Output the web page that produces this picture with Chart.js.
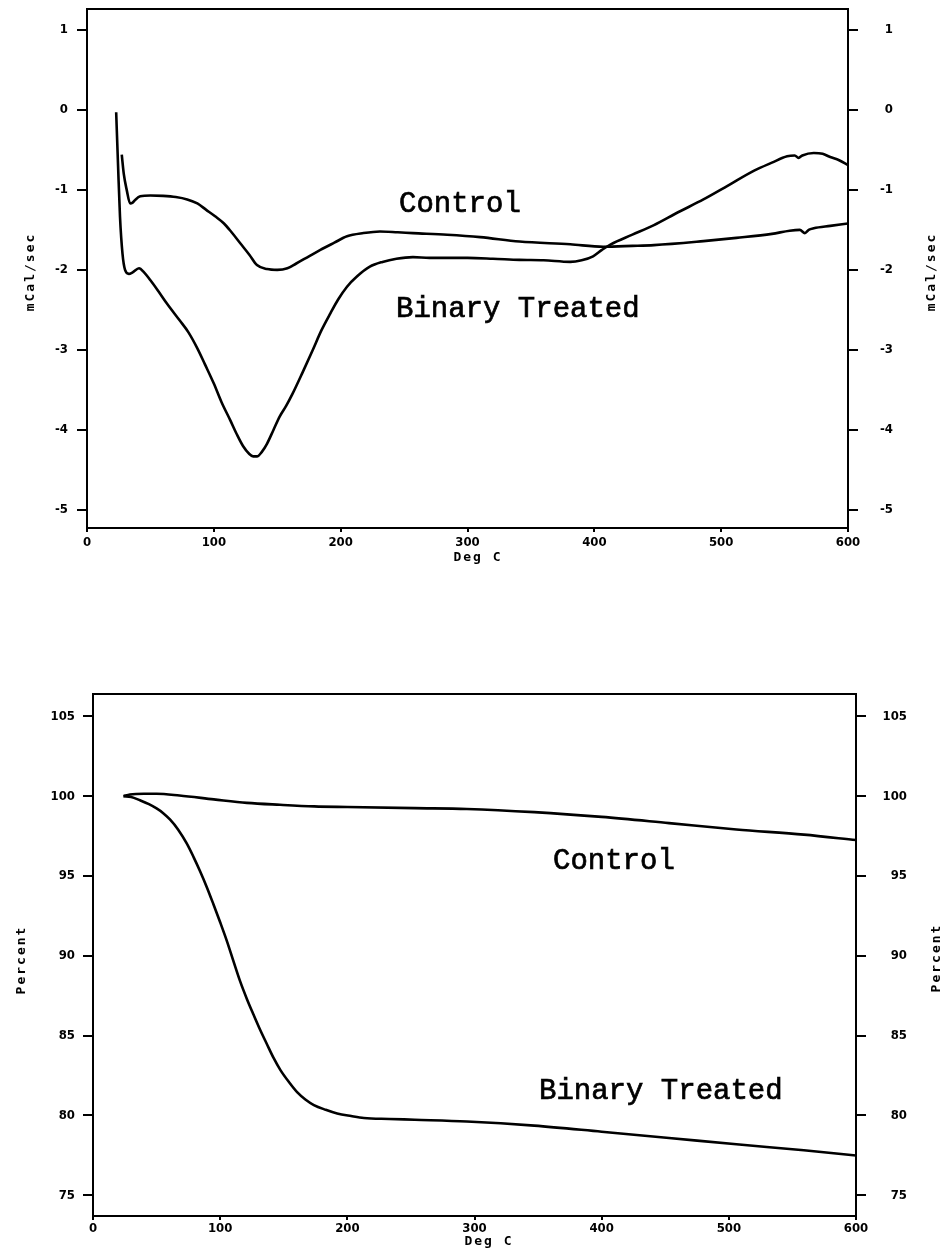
<!DOCTYPE html>
<html>
<head>
<meta charset="utf-8">
<script src="https://cdn.jsdelivr.net/npm/chart.js@4.4.0/dist/chart.umd.min.js"></script>
<style>
  html, body { margin: 0; padding: 0; background: #fff; }
  body { width: 946px; height: 1255px; position: relative; overflow: hidden; }
  canvas { position: absolute; left: 0; }
  #dscChart { top: 0; }
  #tgaChart { top: 600px; }
</style>
</head>
<body>
<canvas id="dscChart" width="946" height="600"></canvas>
<canvas id="tgaChart" width="946" height="655"></canvas>
<script>
// temperature axis (Deg C), shared by both panels
const tempTicks = [0, 100, 200, 300, 400, 500, 600];

// top panel: heat flow, mCal/sec
const dscYTicks = [1, 0, -1, -2, -3, -4, -5];
const dscControlTemps = [27.4, 29, 31.3, 34, 36, 38, 42, 50, 60, 70, 79, 87, 94, 101, 108, 114, 121, 128, 134, 142, 150, 158, 165, 175, 184, 195, 205, 218, 231, 245, 257, 284, 310, 341, 381, 407, 430, 447, 486, 512, 540, 554, 562, 566, 569, 573, 586, 600];
const dscControlFlow = [-0.56, -0.8, -1.0, -1.17, -1.16, -1.125, -1.08, -1.07, -1.075, -1.09, -1.12, -1.17, -1.25, -1.33, -1.42, -1.53, -1.67, -1.81, -1.94, -1.99, -2.0, -1.98, -1.92, -1.83, -1.75, -1.66, -1.58, -1.54, -1.52, -1.53, -1.54, -1.56, -1.59, -1.645, -1.68, -1.71, -1.70, -1.69, -1.64, -1.60, -1.55, -1.51, -1.50, -1.54, -1.50, -1.48, -1.45, -1.42];
const dscBinaryTemps = [23, 24.5, 26, 28, 30, 33, 36, 41, 45, 50, 56, 63, 73, 80, 87, 93, 100, 106, 113, 118, 123, 128, 131, 134, 138, 142, 147, 152, 157, 162, 170, 178, 185, 192, 198, 205, 213, 223, 233, 244, 257, 270, 284, 300, 320, 341, 360, 381, 390, 399, 406, 413, 430, 447, 466, 486, 505, 526, 540, 552, 558, 561, 564, 573, 580, 586, 593, 600];
const dscBinaryFlow = [-0.03, -0.7, -1.33, -1.8, -2.0, -2.05, -2.03, -1.98, -2.03, -2.13, -2.26, -2.42, -2.63, -2.78, -2.98, -3.18, -3.42, -3.65, -3.88, -4.05, -4.2, -4.3, -4.33, -4.33, -4.27, -4.17, -4.0, -3.83, -3.7, -3.55, -3.28, -3.0, -2.75, -2.54, -2.37, -2.21, -2.08, -1.96, -1.9, -1.86, -1.84, -1.85, -1.85, -1.85, -1.86, -1.875, -1.88, -1.9, -1.88, -1.83, -1.75, -1.68, -1.56, -1.44, -1.28, -1.12, -0.95, -0.76, -0.66, -0.58, -0.57, -0.6, -0.57, -0.54, -0.55, -0.59, -0.63, -0.69];

// bottom panel: weight, Percent
const tgaYTicks = [105, 100, 95, 90, 85, 80, 75];
const tgaControlTemps = [24, 29, 40, 50, 68, 95, 121, 147, 174, 200, 253, 294, 347, 400, 453, 506, 559, 600];
const tgaControlPct = [100.0, 100.1, 100.15, 100.15, 100.04, 99.8, 99.58, 99.46, 99.36, 99.32, 99.25, 99.2, 99.0, 98.7, 98.31, 97.91, 97.59, 97.25];
const tgaBinaryTemps = [24, 30, 37, 44, 50, 55, 60.5, 67, 73.7, 79, 84.2, 89.5, 94.7, 100, 105.3, 110.5, 115.8, 121, 126.3, 131.5, 136.8, 142, 147.4, 154, 160.5, 167, 173.7, 183, 192, 203, 213, 233, 253, 294, 347, 400, 453, 506, 559, 600];
const tgaBinaryPct = [100.0, 99.95, 99.74, 99.5, 99.23, 98.95, 98.54, 97.9, 97.04, 96.2, 95.3, 94.3, 93.23, 92.1, 90.92, 89.65, 88.38, 87.3, 86.3, 85.35, 84.46, 83.6, 82.84, 82.1, 81.46, 81.0, 80.65, 80.35, 80.12, 79.96, 79.84, 79.78, 79.73, 79.62, 79.36, 78.98, 78.59, 78.19, 77.82, 77.49];

const tickFont = { family: '"DejaVu Sans Condensed", "DejaVu Sans", sans-serif', size: 13, weight: 'bold' };

function toPoints(xs, ys) {
    return xs.map((x, i) => ({ x: x, y: ys[i] }));
}

function fixedTicks(values) {
    return function(scale) {
        scale.ticks = values.map(v => ({ value: v }));
    };
}

// draws the box round the plot, the curve labels and the axis titles
const framePlugin = {
    id: 'frame',
    afterDraw(chart, args, opts) {
        const { ctx, chartArea: a } = chart;
        ctx.save();
        ctx.strokeStyle = '#000';
        ctx.lineWidth = 2;
        ctx.strokeRect(a.left, a.top, a.right - a.left, a.bottom - a.top);

        // typewriter labels, a bit heavier like the scanned original
        ctx.fillStyle = '#000';
        ctx.font = '29px "Liberation Mono", "Courier New", monospace';
        ctx.textAlign = 'left';
        ctx.textBaseline = 'alphabetic';
        ctx.lineWidth = 0.7;
        opts.notes.forEach(n => {
            ctx.fillText(n.text, n.x, n.y);
            ctx.strokeText(n.text, n.x, n.y);
        });

        ctx.font = 'bold 13px "DejaVu Sans Mono", monospace';
        ctx.textAlign = 'center';
        ctx.textBaseline = 'middle';
        ctx.letterSpacing = '2px';
        ctx.fillText(opts.xTitle.text, opts.xTitle.x, opts.xTitle.y);
        opts.yTitles.forEach(t => {
            ctx.save();
            ctx.translate(t.x, t.y);
            ctx.rotate(-Math.PI / 2);
            ctx.fillText(t.text, 0, 0);
            ctx.restore();
        });
        ctx.restore();
    }
};

function createPanel(canvasId, cfg) {
    const ctx = document.getElementById(canvasId).getContext('2d');
    const tickGrid = { display: true, drawOnChartArea: false, drawTicks: true, tickLength: 10, color: '#000', lineWidth: 2 };
    return new Chart(ctx, {
        type: 'line',
        data: {
            datasets: cfg.series.map(s => ({
                label: s.label,
                data: s.data,
                borderColor: '#000',
                borderWidth: 2.6,
                pointRadius: 0,
                fill: false,
                cubicInterpolationMode: 'monotone'
            }))
        },
        options: {
            responsive: false,
            animation: false,
            layout: { padding: { top: cfg.top, right: cfg.rightPad, left: 0, bottom: 0 } },
            plugins: {
                legend: { display: false },
                tooltip: { enabled: false },
                frame: { notes: cfg.notes, xTitle: cfg.xTitle, yTitles: cfg.yTitles }
            },
            scales: {
                x: {
                    type: 'linear',
                    min: 0,
                    max: 600,
                    afterBuildTicks: fixedTicks(tempTicks),
                    afterFit: s => { s.height = cfg.xHeight; s.paddingLeft = 0; s.paddingRight = 0; },
                    grid: { display: true, drawOnChartArea: false, drawTicks: true, tickLength: 4, color: '#000', lineWidth: 2 },
                    border: { display: false },
                    ticks: { color: '#000', font: tickFont, padding: cfg.xPad, maxRotation: 0 }
                },
                y: {
                    position: 'left',
                    min: cfg.yMin,
                    max: cfg.yMax,
                    afterBuildTicks: fixedTicks(cfg.yTicks),
                    afterFit: s => { s.width = cfg.leftWidth; s.paddingTop = 0; s.paddingBottom = 0; },
                    grid: tickGrid,
                    border: { display: false },
                    ticks: { color: '#000', font: tickFont, padding: cfg.leftPad }
                },
                y2: {
                    position: 'right',
                    min: cfg.yMin,
                    max: cfg.yMax,
                    afterBuildTicks: fixedTicks(cfg.yTicks),
                    afterFit: s => { s.width = cfg.rightWidth; s.paddingTop = 0; s.paddingBottom = 0; },
                    grid: tickGrid,
                    border: { display: false },
                    ticks: { color: '#000', font: tickFont, crossAlign: 'far' }
                }
            }
        },
        plugins: [framePlugin]
    });
}

createPanel('dscChart', {
    series: [
        { label: 'Control', data: toPoints(dscControlTemps, dscControlFlow) },
        { label: 'Binary Treated', data: toPoints(dscBinaryTemps, dscBinaryFlow) }
    ],
    yMin: -5.225, yMax: 1.26, yTicks: dscYTicks,
    top: 9, rightPad: 53, rightWidth: 45, leftWidth: 87, leftPad: 9,
    xHeight: 72, xPad: 3,
    notes: [
        { text: 'Control', x: 399, y: 212 },
        { text: 'Binary Treated', x: 396, y: 317 }
    ],
    xTitle: { text: 'Deg C', x: 478, y: 558 },
    yTitles: [
        { text: 'mCal/sec', x: 31, y: 272 },
        { text: 'mCal/sec', x: 932, y: 272 }
    ]
});

createPanel('tgaChart', {
    series: [
        { label: 'Control', data: toPoints(tgaControlTemps, tgaControlPct) },
        { label: 'Binary Treated', data: toPoints(tgaBinaryTemps, tgaBinaryPct) }
    ],
    yMin: 73.7, yMax: 106.4, yTicks: tgaYTicks,
    top: 94, rightPad: 39, rightWidth: 51, leftWidth: 93, leftPad: 8,
    xHeight: 39, xPad: 1,
    notes: [
        { text: 'Control', x: 553, y: 269 },
        { text: 'Binary Treated', x: 539, y: 499 }
    ],
    xTitle: { text: 'Deg C', x: 489, y: 642 },
    yTitles: [
        { text: 'Percent', x: 22, y: 360 },
        { text: 'Percent', x: 937, y: 358 }
    ]
});
</script>
</body>
</html>
